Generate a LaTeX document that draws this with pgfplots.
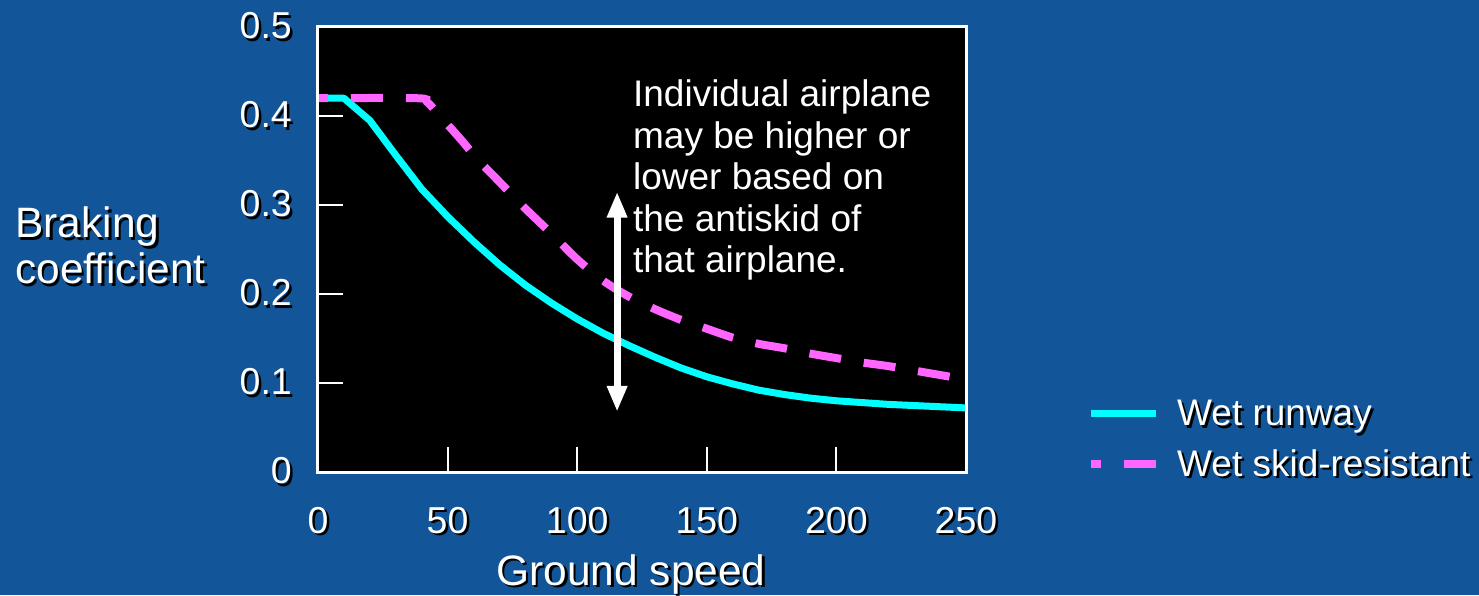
\documentclass[border=0pt]{standalone}
\usepackage{pgfplots}
\pgfplotsset{compat=1.18}
\usepackage{pgfplotstable}
\usepackage{fontspec}
\setmainfont{Liberation Sans}
\usetikzlibrary{arrows.meta,calc,backgrounds}
\definecolor{bgblue}{RGB}{19,85,153}
\definecolor{wetcyan}{RGB}{0,255,255}
\definecolor{wetmag}{RGB}{255,102,255}
\newcommand\sh[1]{\leavevmode\rlap{\kern2.5pt\raisebox{-2.5pt}{\color{black}#1}}{\color{white}#1}}

\pgfplotstableread{
x y
0 0.42
10 0.42
20 0.395
30 0.356
40 0.318
50 0.287
60 0.259
70 0.233
80 0.210
90 0.190
100 0.172
110 0.156
120 0.142
130 0.129
140 0.117
150 0.107
160 0.099
170 0.092
180 0.087
190 0.083
200 0.080
210 0.078
220 0.076
235 0.074
250 0.072
}\wetrunway

\pgfplotstableread{
x y
0 0.42
38 0.42
42 0.416
47 0.400
55 0.374
62 0.350
70 0.326
80 0.296
90 0.268
100 0.239
110 0.215
120 0.197
130 0.183
140 0.171
150 0.161
160 0.151
170 0.144
180 0.139
190 0.133
200 0.128
210 0.123
220 0.119
230 0.114
240 0.109
250 0.104
}\skidres

\begin{document}
\begin{tikzpicture}[x=1pt,y=1pt]
\begin{axis}[
  name=ax,
  scale only axis, width=648pt, height=445pt,
  xmin=0, xmax=250, ymin=0, ymax=0.5,
  axis background/.style={fill=black},
  axis on top,
  axis line style={white, line width=3pt},
  tick style={white, line width=2pt},
  major tick length=25pt,
  tick align=inside,
  tick pos=left,
  xtick={0,50,100,150,200,250},
  xticklabels={\sh{0},\sh{50},\sh{100},\sh{150},\sh{200},\sh{250}},
  ytick={0,0.1,0.2,0.3,0.4,0.5},
  yticklabels={\sh{0},\sh{0.1},\sh{0.2},\sh{0.3},\sh{0.4},\sh{0.5}},
  ticklabel style={font=\fontsize{37.5}{44}\selectfont, inner sep=0pt},
  yticklabel style={xshift=-26pt},
  xticklabel style={yshift=-35pt},
  xlabel={\sh{Ground speed}},
  xlabel style={font=\fontsize{42.5}{50}\selectfont, at={(rel axis cs:0.483,-0.254)}, anchor=base, inner sep=0pt},
  ylabel={\sh{Braking}\\\sh{coefficient}},
  ylabel style={font=\fontsize{42.5}{46}\selectfont, rotate=-90, at={(rel axis cs:-0.4676,0.5955)}, anchor=north west, align=left, inner sep=0pt},
  legend cell align=left,
  legend image code/.code={\draw[#1] (0pt,0pt) -- (65pt,0pt);},
  legend style={at={(rel axis cs:1.1867,0.074)}, anchor=west, draw=none, fill=none,
    font=\fontsize{37}{44}\selectfont, row sep=22pt, inner sep=0pt,
    nodes={inner sep=0pt, text=white},
    /tikz/every odd column/.append style={column sep=17pt}},
]
\addplot[wetcyan, line width=7pt, line join=round] table[x=x,y=y] {\wetrunway};
\addlegendentry{\sh{Wet runway}}
\addplot[wetmag, line width=8pt, smooth, tension=0.5, dash pattern=on 32pt off 23pt, dash phase=22pt] table[x=x,y=y] {\skidres};
\addlegendentry{\sh{Wet skid-resistant}}
\draw[white, line width=7pt, {Triangle[width=19pt,length=26pt]}-{Triangle[width=19pt,length=26pt]}] (axis cs:115.4,0.0676) -- (axis cs:115.4,0.315);
\node[anchor=north west, inner sep=0pt, align=left, text=white, font=\fontsize{37}{41.5}\selectfont] at (axis cs:121.5,0.441) {Individual airplane\\may be higher or\\lower based on\\the antiskid of\\that airplane.};
\end{axis}
\begin{pgfonlayer}{background}
\fill[bgblue] ($(ax.south west)+(-318,-123)$) rectangle ++(1479,595);
\end{pgfonlayer}
\pgfresetboundingbox
\path[use as bounding box] ($(ax.south west)+(-318,-123)$) rectangle ++(1479,595);
\end{tikzpicture}
\end{document}
